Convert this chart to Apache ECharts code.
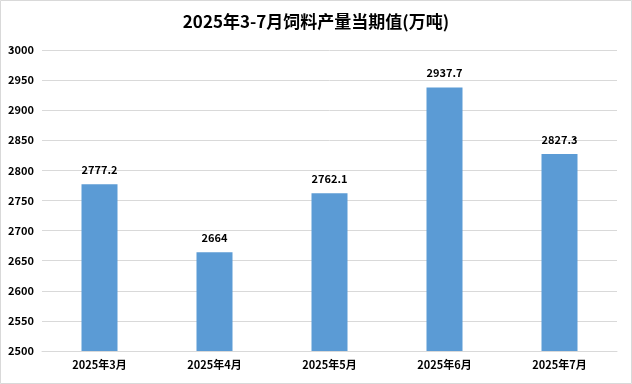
<!DOCTYPE html>
<html>
<head>
<meta charset="utf-8">
<script src="https://cdn.jsdelivr.net/npm/echarts@6/dist/echarts.min.js"></script>
<style>
html,body{margin:0;padding:0;background:#fff;}
#c{width:632px;height:384px;}
</style>
</head>
<body>
<div id="c"></div>
<script>
const categories = ['2025年3月','2025年4月','2025年5月','2025年6月','2025年7月'];
const values = [2777.2, 2664, 2762.1, 2937.7, 2827.3];
const titleText = '2025年3-7月饲料产量当期值(万吨)';

const chart = echarts.init(document.getElementById('c'));
chart.setOption({
  backgroundColor: '#fff',
  animation: false,
  graphic: [{
    type: 'rect',
    shape: {x: 0.5, y: 0.5, width: 631, height: 383},
    style: {fill: 'none', stroke: '#d9d9d9', lineWidth: 1},
    silent: true
  }],
  title: {
    text: titleText,
    left: 'center',
    top: 8,
    textStyle: {fontFamily: 'Noto Sans CJK SC', fontSize: 17, fontWeight: 'bold', color: '#000'}
  },
  grid: {left: 42, right: 15, top: 50, bottom: 33, containLabel: false},
  xAxis: {
    type: 'category',
    data: categories,
    axisLine: {lineStyle: {color: '#d9d9d9'}},
    axisTick: {show: false},
    axisLabel: {fontFamily: 'Noto Sans CJK SC', fontSize: 11, fontWeight: 'bold', color: '#000', margin: 8}
  },
  yAxis: {
    type: 'value',
    min: 2500, max: 3000, interval: 50,
    axisLine: {show: false},
    axisTick: {show: false},
    splitLine: {lineStyle: {color: '#d9d9d9'}},
    axisLabel: {fontFamily: 'Noto Sans CJK SC', fontSize: 11, fontWeight: 'bold', color: '#000', margin: 8,
      formatter: function (v) { return String(v); }}
  },
  series: [{
    type: 'bar',
    data: values,
    barWidth: 36,
    itemStyle: {color: '#5b9bd5'},
    label: {
      show: true, position: 'top', distance: 9,
      fontFamily: 'Noto Sans CJK SC', fontSize: 11, fontWeight: 'bold', color: '#000'
    }
  }]
});
</script>
</body>
</html>
